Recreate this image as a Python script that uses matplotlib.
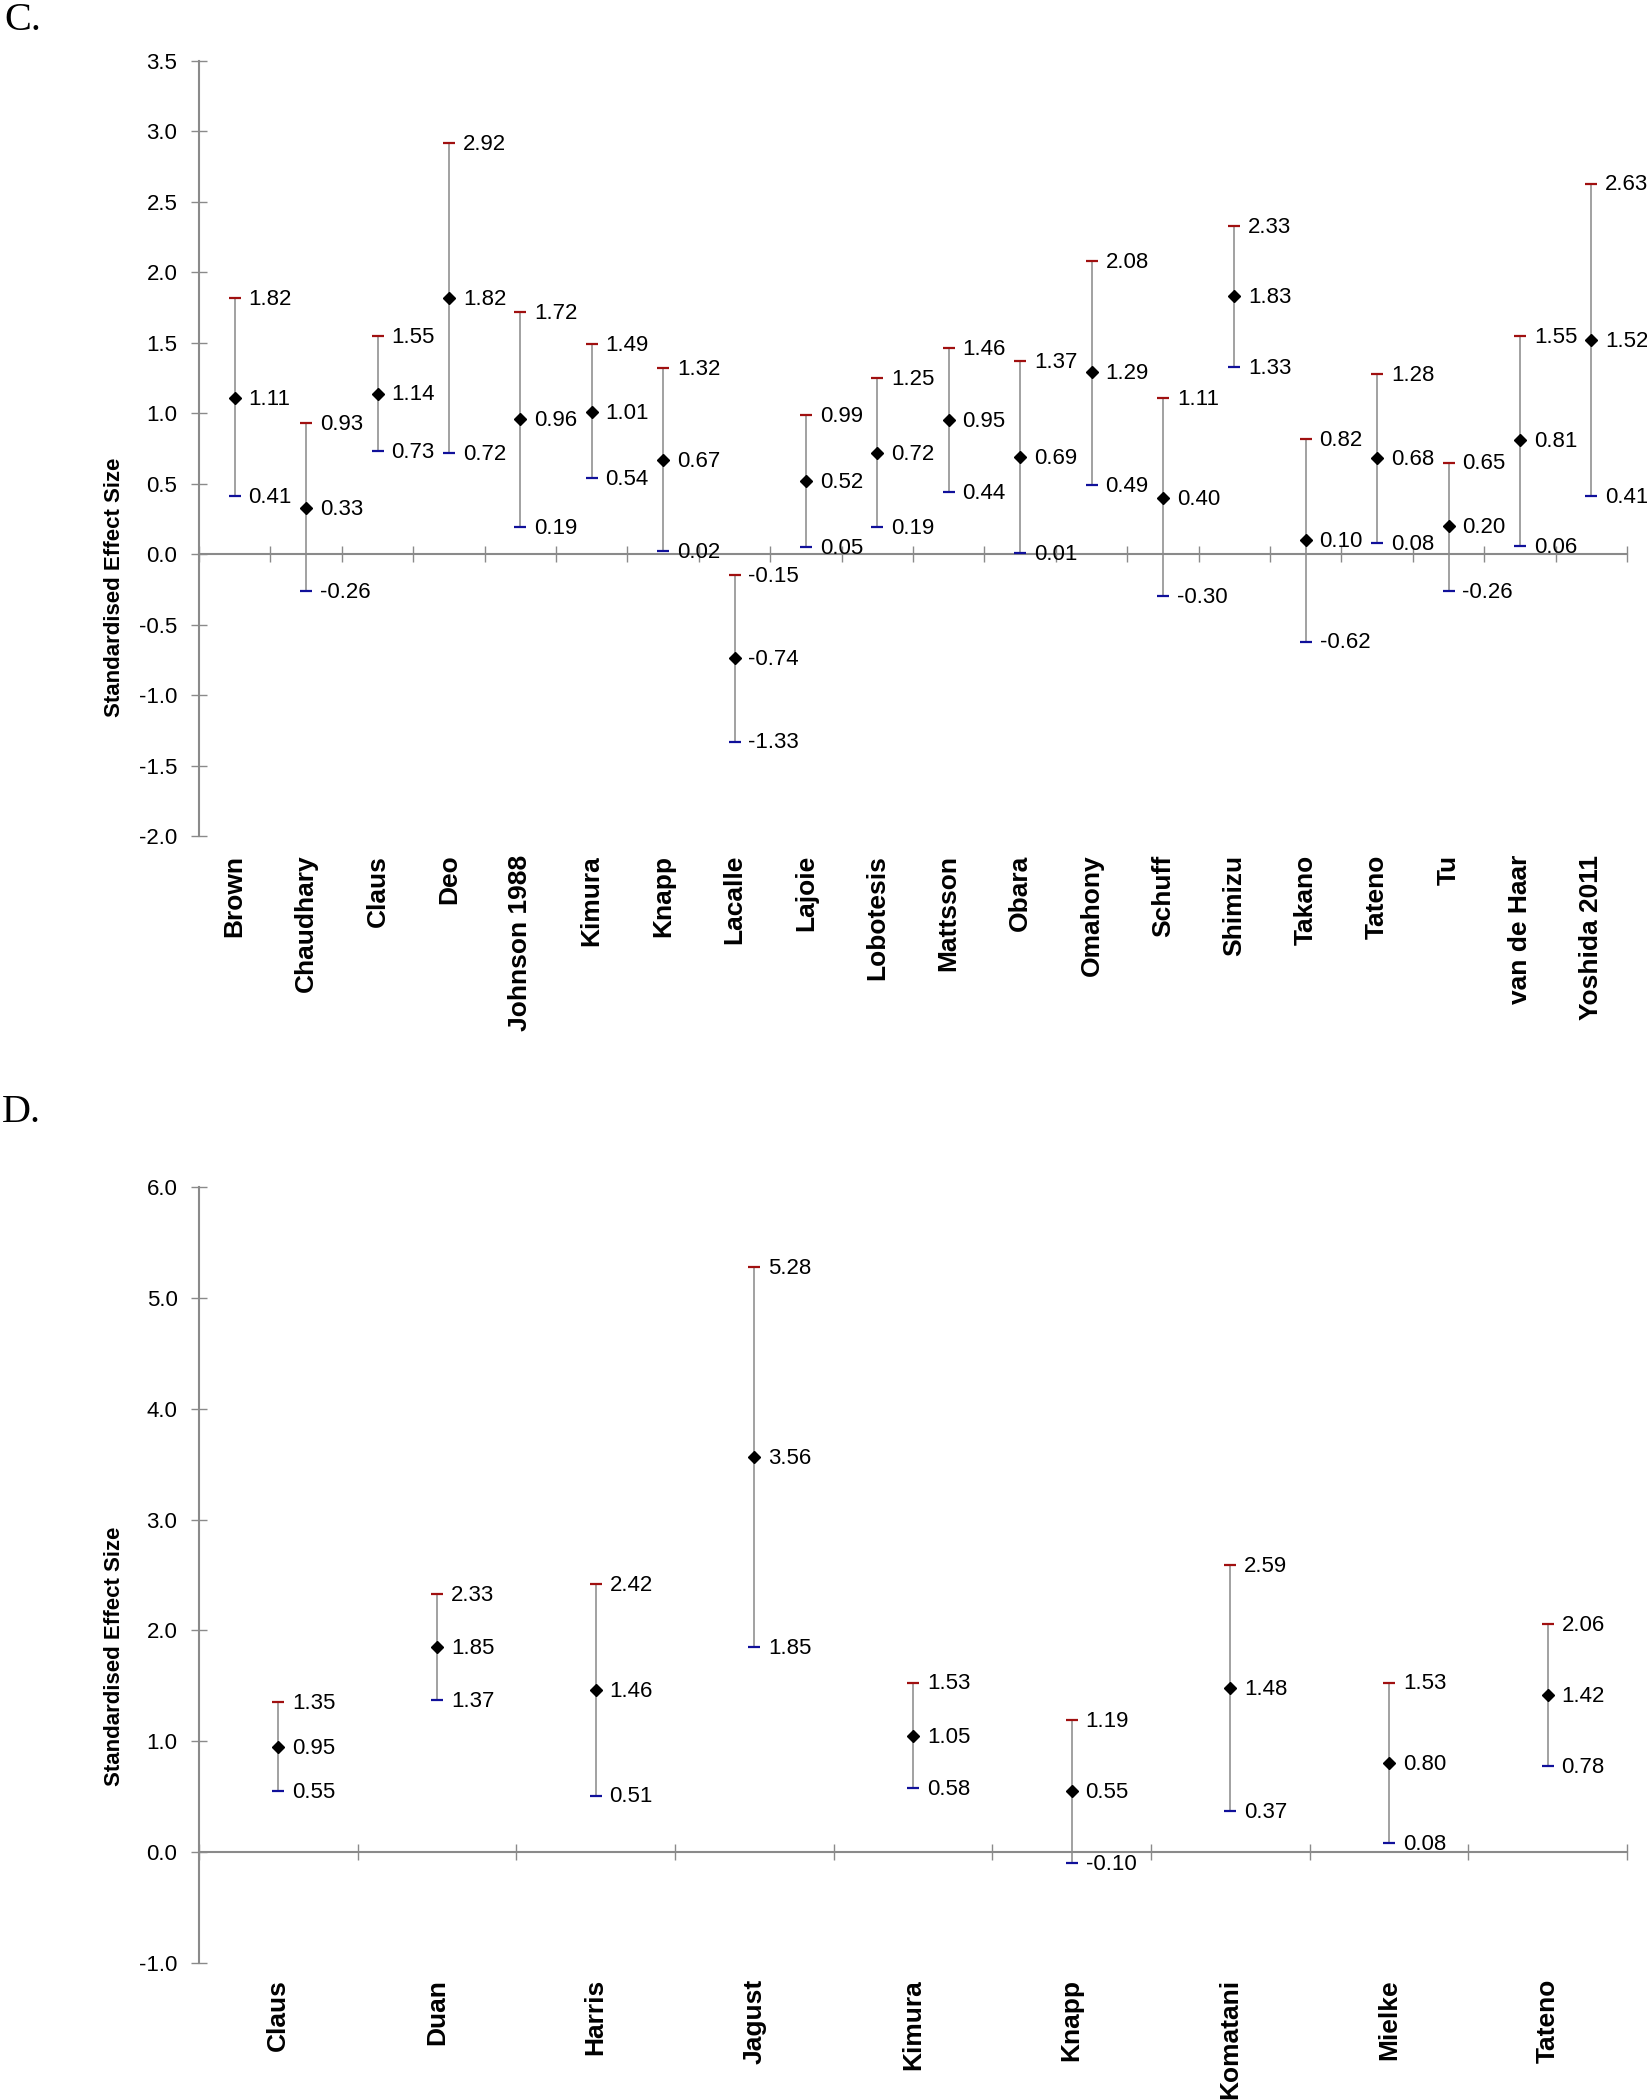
import numpy as np
import matplotlib
matplotlib.use("Agg")
import matplotlib.pyplot as plt
import matplotlib.transforms as mtransforms

plt.rcParams['font.family'] = ['Liberation Sans', 'DejaVu Sans']

# ---------------- Data ----------------
c_studies = ["Brown", "Chaudhary", "Claus", "Deo", "Johnson 1988", "Kimura", "Knapp",
             "Lacalle", "Lajoie", "Lobotesis", "Mattsson", "Obara", "Omahony", "Schuff",
             "Shimizu", "Takano", "Tateno", "Tu", "van de Haar", "Yoshida 2011"]
c_mean = [1.11, 0.33, 1.14, 1.82, 0.96, 1.01, 0.67, -0.74, 0.52, 0.72,
          0.95, 0.69, 1.29, 0.40, 1.83, 0.10, 0.68, 0.20, 0.81, 1.52]
c_low = [0.41, -0.26, 0.73, 0.72, 0.19, 0.54, 0.02, -1.33, 0.05, 0.19,
         0.44, 0.01, 0.49, -0.30, 1.33, -0.62, 0.08, -0.26, 0.06, 0.41]
c_high = [1.82, 0.93, 1.55, 2.92, 1.72, 1.49, 1.32, -0.15, 0.99, 1.25,
          1.46, 1.37, 2.08, 1.11, 2.33, 0.82, 1.28, 0.65, 1.55, 2.63]
c_yticks = [-2.0, -1.5, -1.0, -0.5, 0.0, 0.5, 1.0, 1.5, 2.0, 2.5, 3.0, 3.5]

d_studies = ["Claus", "Duan", "Harris", "Jagust", "Kimura", "Knapp", "Komatani", "Mielke", "Tateno"]
d_mean = [0.95, 1.85, 1.46, 3.56, 1.05, 0.55, 1.48, 0.80, 1.42]
d_low = [0.55, 1.37, 0.51, 1.85, 0.58, -0.10, 0.37, 0.08, 0.78]
d_high = [1.35, 2.33, 2.42, 5.28, 1.53, 1.19, 2.59, 1.53, 2.06]
d_yticks = [-1.0, 0.0, 1.0, 2.0, 3.0, 4.0, 5.0, 6.0]

ylabel = "Standardised Effect Size"

# ---------------- Style ----------------
W, H = 1647, 2100
DPI = 100
AXIS_COLOR = "#8a8a8a"
BAR_COLOR = "#9a9a9a"
HI_COLOR = "#a01010"
LO_COLOR = "#10109a"
FS_TICK = 16
FS_DATA = 16
FS_CAT = 19

fig = plt.figure(figsize=(W / DPI, H / DPI), dpi=DPI)


def px_axes(x0, x1, ytop, ybot):
    return fig.add_axes([x0 / W, 1 - ybot / H, (x1 - x0) / W, (ybot - ytop) / H])


def draw_panel(ax, studies, mean, low, high, yticks, cat_pad):
    n = len(studies)
    xs = np.arange(n) + 0.5
    ax.set_xlim(0, n)
    ax.set_ylim(min(yticks), max(yticks))
    for s in ["top", "right"]:
        ax.spines[s].set_visible(False)
    ax.spines["left"].set_color(AXIS_COLOR)
    ax.spines["left"].set_linewidth(1.5)
    ax.spines["bottom"].set_color(AXIS_COLOR)
    ax.spines["bottom"].set_linewidth(1.5)
    ax.spines["bottom"].set_position(("data", 0))
    ax.set_yticks(yticks)
    ax.set_yticklabels([f"{t:.1f}" for t in yticks])
    ax.tick_params(axis="y", direction="inout", length=11, width=1.0, color=AXIS_COLOR,
                   labelsize=FS_TICK, pad=10)
    ax.set_xticks(np.arange(n + 1))
    ax.tick_params(axis="x", direction="inout", length=12, width=1.0, color=AXIS_COLOR,
                   labelbottom=False)

    ax.vlines(xs, low, high, color=BAR_COLOR, linewidth=1.3, zorder=2)
    ax.plot(xs, high, ls="none", marker="_", ms=8.5, mew=1.6, color=HI_COLOR, zorder=3)
    ax.plot(xs, low, ls="none", marker="_", ms=8.5, mew=1.6, color=LO_COLOR, zorder=3)
    ax.plot(xs, mean, ls="none", marker="D", ms=6.3, color="black", zorder=4)

    for x, m, lo, hi in zip(xs, mean, low, high):
        for v in (m, lo, hi):
            ax.annotate(f"{v:.2f}", (x, v), xytext=(10, -1), textcoords="offset points",
                        ha="left", va="center", fontsize=FS_DATA, color="black",
                        annotation_clip=False)

    trans = mtransforms.blended_transform_factory(ax.transData, ax.transAxes)
    for x, name in zip(xs, studies):
        ax.annotate(name, (x, 0), xycoords=trans, xytext=(0, -cat_pad),
                    textcoords="offset points", rotation=90, ha="center", va="top",
                    fontsize=FS_CAT, fontweight="bold", annotation_clip=False)


axC = px_axes(199, 1627, 61, 836)
draw_panel(axC, c_studies, c_mean, c_low, c_high, c_yticks, 13.5)

axD = px_axes(199, 1627, 1187, 1963)
draw_panel(axD, d_studies, d_mean, d_low, d_high, d_yticks, 11.5)

fig.text(114 / W, 1 - 587 / H, ylabel, rotation=90, ha="center", va="center",
         fontsize=16, fontweight="bold")
fig.text(114 / W, 1 - 1656 / H, ylabel, rotation=90, ha="center", va="center",
         fontsize=16, fontweight="bold")

fig.text(4 / W, 1 - 30 / H, "C.", family=["Liberation Serif", "DejaVu Serif"],
         fontsize=29, ha="left", va="baseline")
fig.text(2 / W, 1 - 1122 / H, "D.", family=["Liberation Serif", "DejaVu Serif"],
         fontsize=29, ha="left", va="baseline")

fig.savefig("out.png", dpi=DPI)
